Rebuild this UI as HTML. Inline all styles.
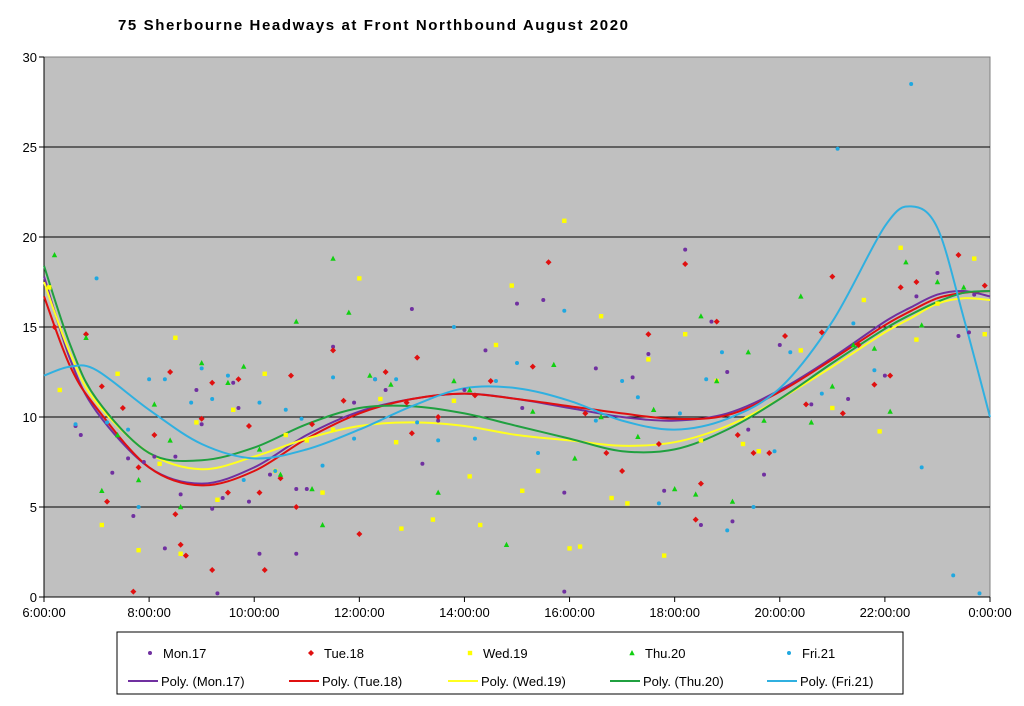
<!DOCTYPE html>
<html><head><meta charset="utf-8"><title>75 Sherbourne Headways</title>
<style>
html,body{margin:0;padding:0;background:#fff;}
svg{display:block;font-family:"Liberation Sans",Arial,sans-serif;}
</style></head>
<body>
<svg id="chart" width="1024" height="706" viewBox="0 0 1024 706">
<text x="118" y="30" font-size="15" font-weight="bold" textLength="510" lengthAdjust="spacing">75 Sherbourne Headways at Front Northbound August 2020</text>
<rect x="44" y="57" width="946" height="540" fill="#c0c0c0" stroke="#808080"/>
<g id="grid"></g><g id="axes"></g><g id="trends"></g><g id="points"></g>
<rect x="117" y="632" width="786" height="62" fill="#fff" stroke="#000" stroke-width="1"/>
<g id="legend"></g>
</svg>
<script>
const yTicks=[0,5,10,15,20,25,30];
const xTickHours=[6,8,10,12,14,16,18,20,22,24];
const xTickLabels=["6:00:00","8:00:00","10:00:00","12:00:00","14:00:00","16:00:00","18:00:00","20:00:00","22:00:00","0:00:00"];
const seriesNames=["Mon.17","Tue.18","Wed.19","Thu.20","Fri.21"];
const monPts=[[6.6,9.5],[6.7,9],[7.3,6.9],[7.6,7.7],[7.7,4.5],[7.9,7.5],[8.1,7.8],[8.3,2.7],[8.5,7.8],[8.6,5.7],[8.7,2.3],[8.9,11.5],[9.0,9.6],[9.2,4.9],[9.3,0.2],[9.4,5.5],[9.6,11.9],[9.7,10.5],[9.9,5.3],[10.1,2.4],[10.3,6.8],[10.8,2.4],[10.8,6],[11,6],[11.5,13.9],[11.9,10.8],[12.3,12.1],[12.5,11.5],[13.0,16],[13.2,7.4],[13.5,9.8],[14.0,11.5],[14.4,13.7],[15,16.3],[15.1,10.5],[15.5,16.5],[15.9,0.3],[15.9,5.8],[16.5,12.7],[17.2,12.2],[17.5,13.5],[17.8,5.9],[18.2,19.3],[18.5,4],[18.7,15.3],[19.0,12.5],[19.1,4.2],[19.4,9.3],[19.7,6.8],[20,14],[20.6,10.7],[21.3,11],[22,12.3],[22.6,16.7],[23,18],[23.4,14.5],[23.6,14.7],[23.7,16.8]];
const tuePts=[[6.2,15],[6.8,14.6],[7.1,11.7],[7.2,5.3],[7.5,10.5],[7.7,0.3],[7.8,7.2],[8.1,9],[8.4,12.5],[8.5,4.6],[8.6,2.9],[8.7,2.3],[9,9.9],[9.2,11.9],[9.2,1.5],[9.5,5.8],[9.7,12.1],[9.9,9.5],[10.1,5.8],[10.2,1.5],[10.5,6.6],[10.7,12.3],[10.8,5],[11.1,9.6],[11.5,13.7],[11.7,10.9],[12,3.5],[12.5,12.5],[12.9,10.8],[13,9.1],[13.1,13.3],[13.5,10],[14.2,11.2],[14.5,12],[15.3,12.8],[15.6,18.6],[16.3,10.2],[16.7,8],[17.0,7],[17.5,14.6],[17.7,8.5],[18.2,18.5],[18.4,4.3],[18.5,6.3],[18.8,15.3],[19.2,9],[19.5,8],[19.8,8],[20.1,14.5],[20.5,10.7],[20.8,14.7],[21.0,17.8],[21.2,10.2],[21.5,14],[21.8,11.8],[22.1,12.3],[22.3,17.2],[22.6,17.5],[23.4,19],[23.9,17.3]];
const wedPts=[[6.1,17.2],[6.3,11.5],[7.1,4],[7.4,12.4],[7.8,2.6],[8.2,7.4],[8.5,14.4],[8.6,2.4],[8.9,9.7],[9.3,5.4],[9.6,10.4],[10.2,12.4],[10.4,7],[10.6,9],[11,8.7],[11.3,5.8],[11.5,9.3],[12,17.7],[12.4,11],[12.7,8.6],[12.8,3.8],[13.4,4.3],[13.8,10.9],[14.1,6.7],[14.3,4],[14.6,14],[14.9,17.3],[15.1,5.9],[15.4,7],[15.9,20.9],[16.0,2.7],[16.2,2.8],[16.6,15.6],[16.8,5.5],[17.1,5.2],[17.5,13.2],[17.8,2.3],[18.2,14.6],[18.5,8.7],[18.8,12],[19.3,8.5],[19.6,8.1],[20.4,13.7],[21,10.5],[21.6,16.5],[21.9,9.2],[22.3,19.4],[22.6,14.3],[23,16.3],[23.7,18.8],[23.9,14.6]];
const thuPts=[[6.2,19],[6.8,14.4],[7.1,5.9],[7.4,9],[7.8,6.5],[8.1,10.7],[8.4,8.7],[8.6,5],[9.0,13],[9.5,11.9],[9.8,12.8],[10.1,8.2],[10.5,6.8],[10.8,15.3],[11.1,6],[11.3,4],[11.5,18.8],[11.8,15.8],[12.2,12.3],[12.6,11.8],[13.5,5.8],[13.8,12],[14.1,11.5],[14.8,2.9],[15.3,10.3],[15.7,12.9],[16.1,7.7],[16.6,10],[17.3,8.9],[17.6,10.4],[18,6],[18.4,5.7],[18.5,15.6],[18.8,12],[19.1,5.3],[19.4,13.6],[19.7,9.8],[20.4,16.7],[20.6,9.7],[21,11.7],[21.4,14],[21.8,13.8],[22.1,10.3],[22.4,18.6],[22.7,15.1],[23,17.5],[23.5,17.2]];
const friPts=[[6.6,9.6],[7.0,17.7],[7.2,9.7],[7.6,9.3],[7.8,5],[8.0,12.1],[8.3,12.1],[8.8,10.8],[9,12.7],[9.2,11],[9.5,12.3],[9.8,6.5],[10.1,10.8],[10.4,7],[10.6,10.4],[10.9,9.9],[11.3,7.3],[11.5,12.2],[11.9,8.8],[12.3,12.1],[12.7,12.1],[13.1,9.7],[13.5,8.7],[13.8,15],[14.2,8.8],[14.6,12],[15,13],[15.4,8],[15.9,15.9],[16.5,9.8],[17,12],[17.3,11.1],[17.7,5.2],[18.1,10.2],[18.6,12.1],[18.9,13.6],[19.0,3.7],[19.5,5],[19.9,8.1],[20.2,13.6],[20.8,11.3],[21.1,24.9],[21.4,15.2],[21.8,12.6],[22.5,28.5],[22.7,7.2],[23.3,1.2],[23.8,0.2]];
const trendHours=[6,6.5,7,8,9,10,11,12,13,14,15,16,17,18,19,20,21,22,22.5,23,23.5,24];
const monTrend=[17.8,13.2,10.3,7.2,6.3,7.2,9.0,10.3,11.0,11.3,11.0,10.5,10.0,9.8,10.2,11.5,13.3,15.3,16.1,16.8,17.0,16.7];
const tueTrend=[16.7,12.8,10.5,7.2,6.2,7.0,8.8,10.2,11.0,11.3,11.0,10.6,10.2,9.9,10.1,11.4,13.2,15.1,15.9,16.6,16.9,17.0];
const wedTrend=[17.5,13.5,10.8,8.0,7.1,7.8,8.8,9.5,9.7,9.5,9.0,8.7,8.4,8.6,9.5,11.0,12.8,14.7,15.5,16.3,16.6,16.5];
const thuTrend=[18.4,14.0,11.0,8.0,7.6,8.3,9.6,10.5,10.6,10.2,9.5,8.8,8.1,8.2,9.3,11.0,13.0,14.9,15.7,16.4,16.9,17.0];
const friTrend=[12.3,12.8,12.6,10.4,8.5,7.7,8.2,9.3,10.6,11.6,11.6,10.9,9.8,9.3,9.9,11.6,15.3,20.6,21.7,20.5,15.5,10.0];

const NS="http://www.w3.org/2000/svg";
const X0=44,X1=990,Y0=597,Y1=57;
const xs=h=>X0+(h-6)/18*(X1-X0);
const ys=v=>Y0-v/30*(Y0-Y1);
function mk(tag,attrs,parent){const e=document.createElementNS(NS,tag);for(const k in attrs)e.setAttribute(k,attrs[k]);parent.appendChild(e);return e;}
const grid=document.getElementById('grid'),axes=document.getElementById('axes');
yTicks.forEach(t=>{
  if(t>0&&t<30){const l=mk('line',{x1:X0,x2:X1,y1:ys(t),y2:ys(t),stroke:'#000','stroke-width':1},grid);
  
  }
  mk('line',{x1:X0-5,x2:X0,y1:ys(t),y2:ys(t),stroke:'#000'},axes);
  const tx=mk('text',{x:X0-7,y:ys(t)+5,'font-size':13,'text-anchor':'end'},axes);tx.textContent=t;
  
  
});
mk('line',{x1:X0,x2:X0,y1:Y1,y2:Y0,stroke:'#000'},axes);
mk('line',{x1:X0,x2:X1,y1:Y0,y2:Y0,stroke:'#000'},axes);
xTickHours.forEach((h,i)=>{
  mk('line',{x1:xs(h),x2:xs(h),y1:Y0,y2:Y0+5,stroke:'#000'},axes);
  const tx=mk('text',{x:xs(h),y:617,'font-size':13,'text-anchor':'middle'},axes);tx.textContent=xTickLabels[i];
  
  
});
const colors=["#7030a0","#e01010","#ffff00","#10d010","#20a8e0"];
const lineColors=["#7030a0","#e01010","#ffff20","#20a040","#30b0e0"];
const pts=[monPts,tuePts,wedPts,thuPts,friPts];
const trends=[monTrend,tueTrend,wedTrend,thuTrend,friTrend];
function marker(k,x,y,parent){
  const c=colors[k];let e;
  if(k===1)e=mk('polygon',{points:`${x},${y-3} ${x+3},${y} ${x},${y+3} ${x-3},${y}`,fill:c},parent);
  else if(k===2)e=mk('rect',{x:x-2.2,y:y-2.2,width:4.4,height:4.4,fill:c},parent);
  else if(k===3)e=mk('polygon',{points:`${x},${y-3} ${x+2.7},${y+2.2} ${x-2.7},${y+2.2}`,fill:c},parent);
  else e=mk('circle',{cx:x,cy:y,r:2,fill:c},parent);
  return e;
}
function smooth(P){let d=`M${P[0][0]},${P[0][1]}`;
  for(let i=0;i<P.length-1;i++){const p0=P[Math.max(0,i-1)],p1=P[i],p2=P[i+1],p3=P[Math.min(P.length-1,i+2)];
    d+=` C${p1[0]+(p2[0]-p0[0])/6},${p1[1]+(p2[1]-p0[1])/6} ${p2[0]-(p3[0]-p1[0])/6},${p2[1]-(p3[1]-p1[1])/6} ${p2[0]},${p2[1]}`;}
  return d;}
const tg=document.getElementById('trends'),pg=document.getElementById('points');
trends.forEach((arr,k)=>{
  const P=trendHours.map((h,i)=>[xs(h),ys(arr[i])]);
  const p=mk('path',{d:smooth(P),fill:'none',stroke:lineColors[k],'stroke-width':2},tg);
  
  
});
pts.forEach((arr,k)=>{
  arr.forEach(([h,v])=>{const e=marker(k,xs(h),ys(v),pg);
    
    });
});
const lg=document.getElementById('legend');
const colX=[150,311,470,632,789];
seriesNames.forEach((n,k)=>{
  const m=marker(k,colX[k],653,lg);
  
  
  const t=mk('text',{x:colX[k]+13,y:658,'font-size':13},lg);t.textContent=n;
  
  
  const l=mk('line',{x1:colX[k]-22,x2:colX[k]+8,y1:681,y2:681,stroke:lineColors[k],'stroke-width':2},lg);
  
  
  const t2=mk('text',{x:colX[k]+11,y:686,'font-size':13},lg);t2.textContent='Poly. ('+n+')';
  
  
});
</script>
</body></html>
